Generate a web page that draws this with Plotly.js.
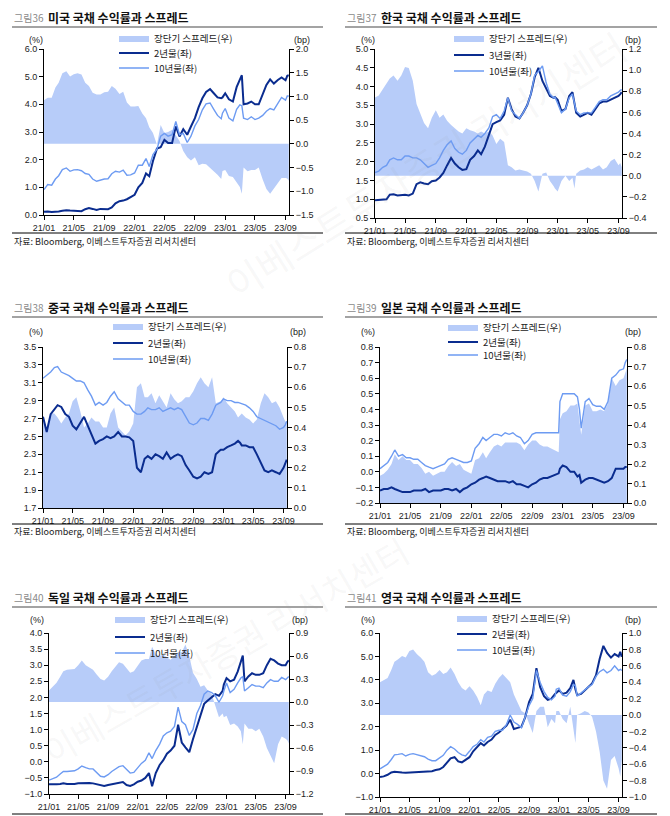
<!DOCTYPE html>
<html><head><meta charset="utf-8">
<script src="https://cdn.plot.ly/plotly-3.0.1.min.js"></script>
<style>html,body{margin:0;padding:0;background:#fff}#chart{width:670px;height:816px}</style>
</head><body><div id="chart"></div>
<script>
const dates = [
"2021-01-01","2021-01-16","2021-02-01","2021-02-16","2021-03-01","2021-03-16","2021-04-01","2021-04-16","2021-05-01","2021-05-16","2021-06-01","2021-06-16",
"2021-07-01","2021-07-16","2021-08-01","2021-08-16","2021-09-01","2021-09-16","2021-10-01","2021-10-16","2021-11-01","2021-11-16","2021-12-01","2021-12-16",
"2022-01-01","2022-01-16","2022-02-01","2022-02-16","2022-03-01","2022-03-16","2022-04-01","2022-04-16","2022-05-01","2022-05-16","2022-06-01","2022-06-16",
"2022-07-01","2022-07-16","2022-08-01","2022-08-16","2022-09-01","2022-09-16","2022-10-01","2022-10-16","2022-11-01","2022-11-16","2022-12-01","2022-12-16","2022-12-21",
"2023-01-01","2023-01-16","2023-02-01","2023-02-16","2023-03-01","2023-03-09","2023-03-16","2023-04-01","2023-04-16","2023-05-01","2023-05-16","2023-06-01","2023-06-16",
"2023-07-01","2023-07-16","2023-08-01","2023-08-16","2023-09-01","2023-09-08","2023-09-14"];

// 미국
const usSpread = [0.92,0.97,0.97,1.19,1.29,1.49,1.53,1.42,1.47,1.49,1.46,1.29,1.22,1.08,1.04,1.04,1.09,1.10,1.22,1.16,1.05,1.10,0.87,0.79,
0.79,0.80,0.64,0.54,0.35,0.23,-0.02,0.40,0.23,0.25,0.30,0.18,0.06,-0.15,-0.28,-0.35,-0.28,-0.45,-0.42,-0.43,-0.50,-0.58,-0.65,-0.74,-0.57,
-0.55,-0.68,-0.70,-0.80,-0.91,-1.05,-0.50,-0.58,-0.55,-0.55,-0.50,-0.75,-0.95,-1.05,-0.95,-0.83,-0.72,-0.72,-0.73,-0.78];
const us2y = [0.12,0.13,0.11,0.11,0.13,0.15,0.17,0.16,0.16,0.15,0.14,0.21,0.25,0.22,0.18,0.22,0.21,0.21,0.27,0.42,0.50,0.52,0.57,0.66,
0.73,1.00,1.16,1.50,1.40,1.95,2.40,2.45,2.72,2.60,2.60,3.20,2.84,3.10,2.90,3.20,3.50,3.90,4.22,4.45,4.55,4.40,4.25,4.22,4.25,
4.40,4.18,4.10,4.62,4.89,5.05,4.00,4.03,4.10,4.00,4.00,4.35,4.70,4.90,4.75,4.88,4.97,4.87,5.03,5.05];
const us10y = [0.92,1.10,1.08,1.30,1.42,1.64,1.70,1.58,1.63,1.64,1.60,1.50,1.47,1.30,1.22,1.26,1.30,1.31,1.49,1.58,1.55,1.62,1.44,1.45,
1.52,1.80,1.80,2.04,1.75,2.18,2.38,2.85,2.95,2.85,2.90,3.38,2.90,2.95,2.62,2.85,3.22,3.45,3.80,4.02,4.05,3.82,3.60,3.48,3.68,
3.85,3.50,3.40,3.82,3.98,3.95,3.50,3.45,3.55,3.45,3.50,3.60,3.75,3.85,3.80,4.05,4.25,4.15,4.30,4.30];

// 한국
const krSpread = [0.74,0.76,0.82,0.88,0.92,0.95,0.90,0.95,1.03,1.02,0.90,0.68,0.58,0.50,0.45,0.55,0.62,0.55,0.58,0.52,0.48,0.45,0.42,0.40,
0.45,0.43,0.42,0.40,0.42,0.40,0.42,0.38,0.30,0.35,0.32,0.10,0.08,0.05,0.06,0.05,0.04,0.02,-0.05,-0.15,0.02,0.03,-0.05,-0.10,-0.12,
-0.15,-0.05,0.00,-0.05,-0.02,-0.12,0.02,0.05,0.06,0.08,0.06,0.08,0.10,0.06,0.08,0.14,0.16,0.10,0.12,0.08];
const kr3y = [0.97,0.98,0.99,1.00,1.12,1.13,1.10,1.12,1.12,1.10,1.15,1.40,1.45,1.42,1.40,1.48,1.50,1.58,1.70,1.90,2.10,1.95,1.85,1.78,
1.80,2.05,2.15,2.30,2.20,2.40,2.70,3.00,3.05,3.10,3.25,3.70,3.40,3.20,3.15,3.30,3.50,3.80,4.25,4.50,4.15,3.95,3.75,3.70,3.72,
3.65,3.35,3.40,3.75,3.85,3.50,3.30,3.20,3.25,3.30,3.25,3.40,3.55,3.60,3.60,3.65,3.70,3.75,3.80,3.85];
const kr10y = [1.71,1.75,1.85,1.90,2.05,2.10,2.05,2.05,2.15,2.15,2.10,2.10,2.05,1.95,1.85,1.90,1.95,2.10,2.30,2.45,2.55,2.35,2.25,2.20,
2.30,2.50,2.60,2.70,2.65,2.75,2.90,3.20,3.25,3.15,3.35,3.70,3.35,3.25,3.15,3.30,3.50,3.80,4.30,4.40,4.55,4.10,3.80,3.70,3.72,
3.55,3.30,3.40,3.70,3.80,3.55,3.35,3.25,3.30,3.30,3.30,3.45,3.60,3.65,3.65,3.75,3.80,3.85,3.90,3.92];

// 중국
const cnSpread = [0.45,0.40,0.47,0.47,0.45,0.42,0.45,0.47,0.53,0.55,0.48,0.40,0.42,0.45,0.43,0.43,0.40,0.40,0.47,0.50,0.40,0.38,0.36,0.38,
0.42,0.60,0.62,0.55,0.55,0.57,0.52,0.56,0.53,0.50,0.57,0.54,0.52,0.53,0.55,0.55,0.58,0.62,0.65,0.62,0.60,0.65,0.52,0.53,0.53,
0.55,0.52,0.50,0.48,0.45,0.46,0.47,0.45,0.44,0.42,0.44,0.52,0.57,0.55,0.52,0.53,0.50,0.45,0.43,0.43];
const cn2y = [2.72,2.55,2.75,2.80,2.85,2.83,2.75,2.72,2.62,2.58,2.65,2.72,2.62,2.52,2.42,2.45,2.47,2.50,2.48,2.50,2.55,2.50,2.50,2.49,
2.45,2.15,2.10,2.25,2.28,2.25,2.30,2.28,2.25,2.32,2.25,2.28,2.30,2.28,2.18,2.12,2.05,2.03,2.05,2.10,2.08,2.10,2.30,2.34,2.35,
2.35,2.38,2.40,2.42,2.45,2.43,2.40,2.40,2.38,2.38,2.30,2.20,2.12,2.10,2.12,2.10,2.08,2.15,2.20,2.24];
const cn10y = [3.15,3.18,3.22,3.27,3.28,3.22,3.20,3.18,3.15,3.12,3.12,3.10,3.02,2.95,2.85,2.88,2.85,2.88,2.95,3.00,2.92,2.88,2.85,2.85,
2.78,2.75,2.75,2.78,2.82,2.80,2.80,2.82,2.78,2.80,2.82,2.80,2.82,2.80,2.72,2.65,2.63,2.65,2.70,2.70,2.68,2.75,2.85,2.88,2.88,
2.92,2.90,2.90,2.88,2.88,2.87,2.87,2.85,2.82,2.78,2.72,2.70,2.68,2.66,2.64,2.62,2.58,2.60,2.63,2.67];

// 일본
const jpSpread = [0.14,0.15,0.17,0.20,0.25,0.22,0.24,0.22,0.22,0.20,0.20,0.18,0.15,0.16,0.14,0.15,0.16,0.16,0.19,0.21,0.19,0.20,0.17,0.16,
0.15,0.22,0.23,0.26,0.23,0.26,0.29,0.30,0.29,0.31,0.31,0.31,0.31,0.30,0.27,0.30,0.32,0.32,0.30,0.29,0.29,0.28,0.27,0.26,0.43,
0.46,0.47,0.50,0.50,0.51,0.42,0.35,0.50,0.51,0.47,0.47,0.48,0.47,0.51,0.64,0.60,0.63,0.64,0.67,0.69];
const jp2y = [-0.12,-0.11,-0.11,-0.10,-0.11,-0.12,-0.13,-0.13,-0.13,-0.12,-0.12,-0.12,-0.11,-0.13,-0.12,-0.12,-0.12,-0.11,-0.11,-0.12,-0.11,-0.13,-0.11,-0.10,
-0.08,-0.07,-0.05,-0.04,-0.03,-0.04,-0.05,-0.06,-0.06,-0.06,-0.07,-0.06,-0.08,-0.08,-0.09,-0.10,-0.08,-0.07,-0.05,-0.04,-0.04,-0.03,-0.02,-0.01,0.02,
0.04,0.03,0.00,0.00,-0.03,-0.02,-0.07,-0.05,-0.04,-0.04,-0.05,-0.06,-0.07,-0.06,-0.04,0.02,0.02,0.02,0.03,0.03];
const jp10y = [0.02,0.04,0.06,0.10,0.14,0.10,0.11,0.09,0.09,0.08,0.08,0.06,0.04,0.03,0.02,0.03,0.04,0.05,0.08,0.09,0.08,0.07,0.06,0.06,
0.07,0.15,0.18,0.22,0.20,0.22,0.24,0.24,0.23,0.25,0.24,0.25,0.23,0.22,0.18,0.20,0.24,0.25,0.25,0.25,0.25,0.25,0.25,0.25,0.45,
0.50,0.50,0.50,0.50,0.48,0.40,0.28,0.45,0.47,0.43,0.42,0.42,0.40,0.45,0.60,0.62,0.65,0.66,0.70,0.72];

// 독일
const deSpread = [0.15,0.20,0.25,0.33,0.40,0.42,0.43,0.43,0.48,0.54,0.48,0.45,0.42,0.36,0.30,0.28,0.33,0.40,0.46,0.52,0.50,0.44,0.38,0.40,
0.48,0.54,0.56,0.56,0.72,0.62,0.60,0.62,0.58,0.55,0.60,0.65,0.65,0.75,0.60,0.38,0.30,0.20,0.22,0.15,0.10,-0.05,-0.20,-0.15,-0.20,
-0.18,-0.30,-0.28,-0.32,-0.38,-0.55,-0.28,-0.35,-0.35,-0.38,-0.35,-0.45,-0.60,-0.70,-0.80,-0.55,-0.45,-0.48,-0.50,-0.54];
const de2y = [-0.70,-0.71,-0.70,-0.69,-0.67,-0.69,-0.70,-0.69,-0.67,-0.66,-0.67,-0.66,-0.67,-0.69,-0.73,-0.75,-0.72,-0.70,-0.68,-0.66,-0.63,-0.72,-0.75,-0.70,
-0.62,-0.58,-0.50,-0.35,-0.76,-0.35,-0.10,0.05,0.25,0.35,0.50,1.15,0.60,0.45,0.30,0.70,1.10,1.50,1.80,1.90,2.00,2.10,2.05,2.20,2.40,
2.60,2.50,2.55,2.80,3.10,3.30,2.50,2.65,2.75,2.70,2.70,2.75,3.00,3.20,3.15,3.05,3.00,3.00,3.10,3.15];
const de10y = [-0.57,-0.53,-0.48,-0.38,-0.30,-0.30,-0.30,-0.28,-0.22,-0.13,-0.18,-0.22,-0.22,-0.32,-0.45,-0.47,-0.40,-0.30,-0.22,-0.15,-0.12,-0.25,-0.35,-0.33,
-0.18,-0.05,0.05,0.28,0.10,0.35,0.55,0.80,0.90,0.95,1.10,1.70,1.25,1.15,0.82,1.00,1.50,1.75,2.10,2.20,2.15,2.05,1.85,2.05,2.20,
2.45,2.15,2.25,2.45,2.60,2.65,2.20,2.30,2.40,2.35,2.35,2.30,2.45,2.55,2.50,2.50,2.62,2.55,2.60,2.65];

// 영국
const ukSpread = [0.40,0.42,0.45,0.55,0.65,0.68,0.72,0.70,0.78,0.80,0.74,0.70,0.65,0.52,0.48,0.50,0.55,0.50,0.52,0.58,0.50,0.40,0.33,0.30,
0.35,0.30,0.22,0.12,0.25,0.30,0.28,0.38,0.45,0.50,0.45,0.40,0.25,0.15,0.05,0.02,-0.10,-0.22,0.05,0.10,0.10,-0.15,-0.05,-0.10,0.05,
0.05,-0.05,-0.10,0.10,-0.15,-0.34,0.00,0.02,0.05,0.03,-0.02,-0.20,-0.45,-0.80,-0.90,-0.55,-0.50,-0.65,-0.75,-0.55];
const uk2y = [-0.15,-0.12,-0.05,0.05,0.08,0.05,0.05,0.04,0.05,0.06,0.06,0.07,0.08,0.12,0.10,0.15,0.18,0.28,0.45,0.65,0.70,0.52,0.48,0.58,
0.70,0.95,1.15,1.30,1.20,1.35,1.45,1.65,1.75,1.90,2.05,2.30,1.90,1.95,2.00,2.40,3.05,3.40,4.50,3.70,3.30,3.15,3.20,3.40,3.45,
3.55,3.40,3.45,3.65,4.00,3.60,3.35,3.40,3.55,3.70,3.85,4.20,4.90,5.45,5.15,4.95,5.10,5.00,5.20,4.98];
const uk10y = [0.20,0.30,0.40,0.60,0.80,0.82,0.85,0.75,0.82,0.85,0.80,0.75,0.72,0.62,0.55,0.55,0.65,0.78,1.00,1.15,1.05,0.90,0.80,0.75,
0.95,1.15,1.25,1.45,1.35,1.55,1.60,1.80,1.85,1.85,2.10,2.50,2.20,2.10,1.95,2.40,2.90,3.20,4.40,3.90,3.50,3.25,3.15,3.30,3.60,
3.65,3.35,3.30,3.50,3.80,3.75,3.30,3.45,3.60,3.70,3.80,4.15,4.35,4.45,4.30,4.40,4.60,4.40,4.45,4.40];

const spreadName = '장단기 스프레드(우)';
const longName = '10년물(좌)';
const sourceText = '자료: Bloomberg, 이베스트투자증권 리서치센터';

const W = 670, H = 816;
const px = v => v / W, py = v => 1 - v / H;

const panels = [
 {fig:'그림36', title:'미국 국채 수익률과 스프레드', shortName:'2년물(좌)', spread:usSpread, short:us2y, long:us10y,
  lRange:[0,6], lDtick:1, rRange:[-1.5,2], rDtick:0.5,
  box:[44,289,49,215], titleY:17, grayY:27, colL:12, colR:323, srcLineY:233, srcY:241, unitY:40, pctX:36, bpX:302, legX:114, rows:[38,53,68]},
 {fig:'그림37', title:'한국 국채 수익률과 스프레드', shortName:'3년물(좌)', spread:krSpread, short:kr3y, long:kr10y,
  lRange:[0.5,5], lDtick:0.5, rRange:[-0.4,1.2], rDtick:0.2,
  box:[375,622,49,218], titleY:17, grayY:27, colL:345, colR:657, srcLineY:233, srcY:241, unitY:40, pctX:368, bpX:633, legX:449, rows:[38,55,71]},
 {fig:'그림38', title:'중국 국채 수익률과 스프레드', shortName:'2년물(좌)', spread:cnSpread, short:cn2y, long:cn10y,
  lRange:[1.7,3.5], lDtick:0.2, rRange:[0,0.8], rDtick:0.1,
  box:[43,287,347,508], titleY:307, grayY:317, colL:12, colR:323, srcLineY:524, srcY:531, unitY:332, pctX:36, bpX:298, legX:108, rows:[326,343,359]},
 {fig:'그림39', title:'일본 국채 수익률과 스프레드', shortName:'2년물(좌)', spread:jpSpread, short:jp2y, long:jp10y,
  lRange:[-0.2,0.8], lDtick:0.1, rRange:[0,0.8], rDtick:0.1,
  box:[380,627,347,503], titleY:307, grayY:317, colL:345, colR:657, srcLineY:524, srcY:531, unitY:332, pctX:368, bpX:633, legX:443, rows:[327,342,355]},
 {fig:'그림40', title:'독일 국채 수익률과 스프레드', shortName:'2년물(좌)', spread:deSpread, short:de2y, long:de10y,
  lRange:[-1,4], lDtick:0.5, rRange:[-1.2,0.9], rDtick:0.3,
  box:[49,289,633,794], titleY:597, grayY:607, colL:12, colR:323, srcLineY:814, srcY:null, unitY:620, pctX:37, bpX:300, legX:110, rows:[619,637,653]},
 {fig:'그림41', title:'영국 국채 수익률과 스프레드', shortName:'2년물(좌)', spread:ukSpread, short:uk2y, long:uk10y,
  lRange:[-1,6], lDtick:1, rRange:[-1,1], rDtick:0.2,
  box:[380,622,633,797], titleY:597, grayY:607, colL:345, colR:657, srcLineY:814, srcY:null, unitY:620, pctX:368, bpX:633, legX:452, rows:[618,634,650]}
];

const KR = '"Noto Sans CJK KR", "Noto Sans", sans-serif';
const LAT = '"Liberation Sans", Arial, sans-serif';
const fillColor = '#b7ccf9';
const darkColor = '#0a2c8f';
const lightColor = '#6d9bf2';

const layout = {
  width:W, height:H, margin:{l:0,r:0,t:0,b:0},
  paper_bgcolor:'#fff', plot_bgcolor:'rgba(0,0,0,0)',
  showlegend:true,
  font:{family:LAT, size:9, color:'#222'},
  annotations:[], shapes:[]
};
const traces = [];
const axCommon = {showline:true, linecolor:'#000', linewidth:1, ticks:'outside', ticklen:4, tickcolor:'#000', tickwidth:1,
  showgrid:false, zeroline:false, fixedrange:true, tickfont:{family:LAT, size:9, color:'#222'}};

// faint watermark (drawn first, under everything else in the annotation layer)
layout.annotations.push({xref:'paper', yref:'paper', x:px(425), y:py(165), xanchor:'center', yanchor:'middle', showarrow:false, textangle:-32,
  text:'이베스트투자증권 리서치센터', font:{family:KR, size:38, color:'rgba(150,150,150,0.08)'}});
layout.annotations.push({xref:'paper', yref:'paper', x:px(225), y:py(650), xanchor:'center', yanchor:'middle', showarrow:false, textangle:-30,
  text:'이베스트투자증권 리서치센터', font:{family:KR, size:34, color:'rgba(150,150,150,0.08)'}});

panels.forEach((p, k) => {
  const i = k + 1;
  const xs = i === 1 ? '' : String(i);
  const yf = 2*i - 1, yl = 2*i;
  const yfs = yf === 1 ? '' : String(yf);
  const b = p.box;
  layout['xaxis' + xs] = Object.assign({}, axCommon, {
    domain:[px(b[0]), px(b[1])], anchor:'y' + yfs, type:'date',
    range:['2021-01-01','2023-09-15'], tick0:'2021-01-01', dtick:'M4', tickformat:'%y/%m'
  });
  layout['yaxis' + yfs] = Object.assign({}, axCommon, {
    domain:[py(b[3]), py(b[2])], anchor:'x' + xs, side:'right',
    range:p.rRange, tick0:p.rRange[0], dtick:p.rDtick, tickformat:'.1f'
  });
  layout['yaxis' + yl] = Object.assign({}, axCommon, {
    overlaying:'y' + yfs, anchor:'x' + xs, side:'left',
    range:p.lRange, tick0:p.lRange[0], dtick:p.lDtick, tickformat:'.1f'
  });
  const legIds = [0,1,2].map(j => { const n = k*3 + j + 1; return n === 1 ? 'legend' : 'legend' + n; });
  legIds.forEach((id, j) => {
    layout[id] = {x:px(p.legX), y:py(p.rows[j]), xanchor:'left', yanchor:'middle', bgcolor:'rgba(0,0,0,0)',
      borderwidth:0, itemwidth:30, font:{family:KR, size:9.5, color:'#222'}};
  });
  traces.push({type:'scatter', mode:'lines', x:dates, y:p.spread, xaxis:'x'+xs, yaxis:'y'+yfs,
    fill:'tozeroy', fillcolor:fillColor, line:{width:0, color:fillColor}, name:spreadName, legend:legIds[0], hoverinfo:'skip'});
  traces.push({type:'scatter', mode:'lines', x:dates, y:p.short, xaxis:'x'+xs, yaxis:'y'+yl,
    line:{width:2, color:darkColor}, name:p.shortName, legend:legIds[1], hoverinfo:'skip'});
  traces.push({type:'scatter', mode:'lines', x:dates, y:p.long, xaxis:'x'+xs, yaxis:'y'+yl,
    line:{width:1.4, color:lightColor}, name:longName, legend:legIds[2], hoverinfo:'skip'});

  const A = layout.annotations, S = layout.shapes;
  A.push({xref:'paper', yref:'paper', x:px(p.colL), y:py(p.titleY), xanchor:'left', yanchor:'middle', showarrow:false,
    text:p.fig, font:{family:KR, size:10, color:'#8a8a8a'}});
  A.push({xref:'paper', yref:'paper', x:px(p.colL + 34), y:py(p.titleY), xanchor:'left', yanchor:'middle', showarrow:false,
    text:'<b>' + p.title + '</b>', font:{family:KR, size:12, color:'#111'}});
  A.push({xref:'paper', yref:'paper', x:px(p.pctX), y:py(p.unitY), xanchor:'center', yanchor:'middle', showarrow:false,
    text:'(%)', font:{family:LAT, size:9, color:'#222'}});
  A.push({xref:'paper', yref:'paper', x:px(p.bpX), y:py(p.unitY), xanchor:'center', yanchor:'middle', showarrow:false,
    text:'(bp)', font:{family:LAT, size:9, color:'#222'}});
  if (p.srcY !== null) {
    A.push({xref:'paper', yref:'paper', x:px(p.colL), y:py(p.srcY), xanchor:'left', yanchor:'middle', showarrow:false,
      text:sourceText, font:{family:KR, size:9, color:'#222'}});
  }
  S.push({type:'line', xref:'paper', yref:'paper', x0:px(p.colL), x1:px(p.colR), y0:py(p.grayY), y1:py(p.grayY),
    line:{color:'#a3a3a3', width:2}});
  S.push({type:'line', xref:'paper', yref:'paper', x0:px(p.colL), x1:px(p.colR), y0:py(p.srcLineY), y1:py(p.srcLineY),
    line:{color:'#000', width:1}});
});

Plotly.newPlot('chart', traces, layout, {staticPlot:true, displayModeBar:false});
</script>
</body></html>
